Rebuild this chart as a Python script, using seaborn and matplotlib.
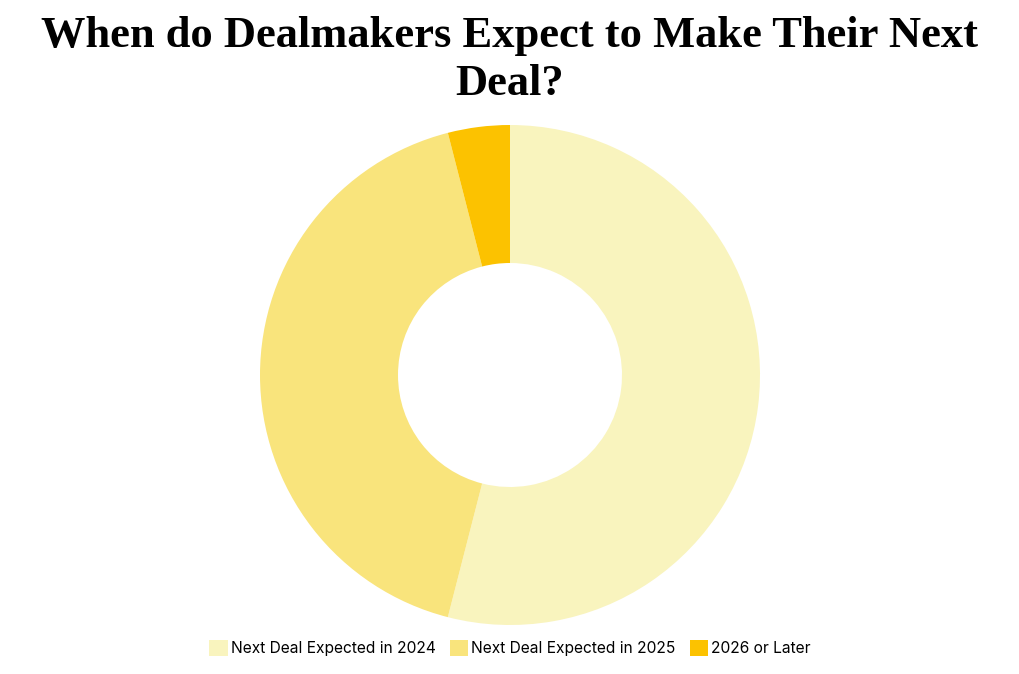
import matplotlib
matplotlib.use("Agg")
import matplotlib.pyplot as plt
import seaborn as sns
from matplotlib.patches import Patch

sns.set_theme(style="white")
plt.rcParams['font.family'] = ['Inter', 'DejaVu Sans']

categories = ["Next Deal Expected in 2024", "Next Deal Expected in 2025", "2026 or Later"]
values = [54, 42, 4]
colors = ["#F9F4BE", "#F9E47C", "#FCC200"]

W, H = 1020, 674
fig = plt.figure(figsize=(W / 100, H / 100), dpi=100)
fig.patch.set_facecolor("white")

cx, cy, r = 510, 375, 250
ax = fig.add_axes([(cx - r) / W, (H - cy - r) / H, 2 * r / W, 2 * r / H])
ax.pie(values, colors=colors, startangle=90, counterclock=False,
       radius=1, wedgeprops=dict(width=1 - 112 / 250, linewidth=0))
ax.set_xlim(-1, 1)
ax.set_ylim(-1, 1)
ax.set_aspect("equal")
ax.axis("off")

fig.text(0.5, 1 - 36 / H, "When do Dealmakers Expect to Make Their Next",
         ha="center", va="center", fontsize=32, fontweight="bold",
         family=["Liberation Serif", "DejaVu Serif"], color="black")
fig.text(0.5, 1 - 84 / H, "Deal?",
         ha="center", va="center", fontsize=32, fontweight="bold",
         family=["Liberation Serif", "DejaVu Serif"], color="black")

handles = [Patch(facecolor=c, edgecolor="none") for c in colors]
leg = fig.legend(handles, categories, loc="center", bbox_to_anchor=(0.5, 1 - 648 / H),
                 ncol=3, frameon=False, fontsize=11.2, handlelength=1.2, handleheight=1.2,
                 handletextpad=0.2, columnspacing=0.9)
for t in leg.get_texts():
    t.set_color("black")

fig.savefig("out.png", dpi=100, facecolor="white")
